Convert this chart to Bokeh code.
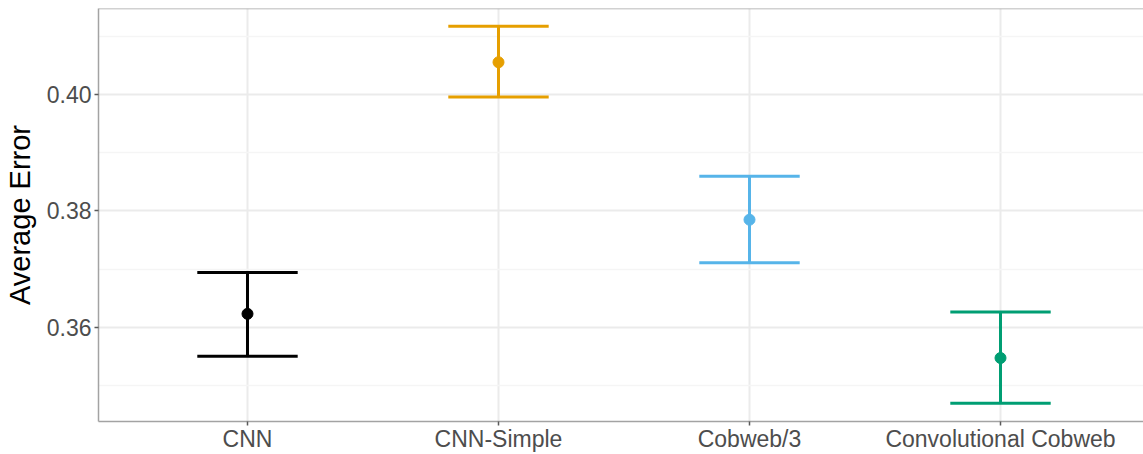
from bokeh.plotting import figure
from bokeh.models import Range1d, FixedTicker, ColumnDataSource, Span, NumeralTickFormatter
from bokeh.embed import file_html
from bokeh.resources import INLINE

categories = ["CNN", "CNN-Simple", "Cobweb/3", "Convolutional Cobweb"]
means = [0.3623, 0.4056, 0.3785, 0.3547]
lower = [0.3550, 0.3996, 0.3711, 0.3469]
upper = [0.3694, 0.4118, 0.3860, 0.3626]
colors = ["#000000", "#E69F00", "#56B4E9", "#009E73"]
y_ticks = [0.36, 0.38, 0.40]
y_minor = [0.35, 0.37, 0.39, 0.41]

xs = [i + 1 for i in range(len(categories))]
half = 0.2
src = ColumnDataSource(dict(
    x=xs, xl=[x - half for x in xs], xr=[x + half for x in xs],
    m=means, lo=lower, hi=upper, c=colors))

y0, y1 = 0.34377, 0.41485
p = figure(width=1143, height=454,
           x_range=Range1d(0.4064, 4.5697), y_range=Range1d(y0, y1),
           output_backend="svg", toolbar_location=None,
           min_border_left=98, min_border_right=0, min_border_top=8,
           min_border_bottom=33, background_fill_color="white",
           border_fill_color="white")
p.outline_line_color = None

BORDER = "#a3a3a3"
TICK = "#5a5a5a"
FONT = "Liberation Sans"

# grids
p.xgrid.ticker = FixedTicker(ticks=xs)
p.xgrid.grid_line_color = "#ebebeb"
p.xgrid.grid_line_width = 2
p.ygrid.grid_line_color = "#ebebeb"
p.ygrid.grid_line_width = 2
p.ygrid.minor_grid_line_color = "#f5f5f5"
p.ygrid.minor_grid_line_width = 1.5

# y axis
p.yaxis.ticker = FixedTicker(ticks=y_ticks, minor_ticks=y_minor)
p.yaxis.formatter = NumeralTickFormatter(format="0.00")
p.yaxis.axis_label = "Average Error"
p.yaxis.axis_label_text_font = FONT
p.yaxis.axis_label_text_font_size = "29px"
p.yaxis.axis_label_text_font_style = "normal"
p.yaxis.axis_label_text_color = "#000000"
p.yaxis.axis_label_standoff = 8

# x axis
p.xaxis.ticker = FixedTicker(ticks=xs)
p.xaxis.major_label_overrides = {x: c for x, c in zip(xs, categories)}

for ax in (p.xaxis, p.yaxis):
    ax.axis_line_color = BORDER
    ax.axis_line_width = 1.5
    ax.major_tick_line_color = TICK
    ax.major_tick_line_width = 1.5
    ax.major_tick_out = 4
    ax.major_tick_in = 0
    ax.minor_tick_line_color = None
    ax.major_label_text_font = FONT
    ax.major_label_text_font_size = "23px"
    ax.major_label_text_color = "#4d4d4d"
    ax.major_label_standoff = 3
p.xaxis.major_label_standoff = 0

# top border
p.add_layout(Span(location=y1, dimension="width", line_color=BORDER, line_width=1.5))

# error bars
p.segment(x0="x", y0="lo", x1="x", y1="hi", line_color="c", line_width=3, source=src)
p.segment(x0="xl", y0="hi", x1="xr", y1="hi", line_color="c", line_width=3, source=src)
p.segment(x0="xl", y0="lo", x1="xr", y1="lo", line_color="c", line_width=3, source=src)
p.scatter(x="x", y="m", size=11, fill_color="c", line_color="c", source=src)

open("out.html", "w").write(file_html(p, INLINE))
